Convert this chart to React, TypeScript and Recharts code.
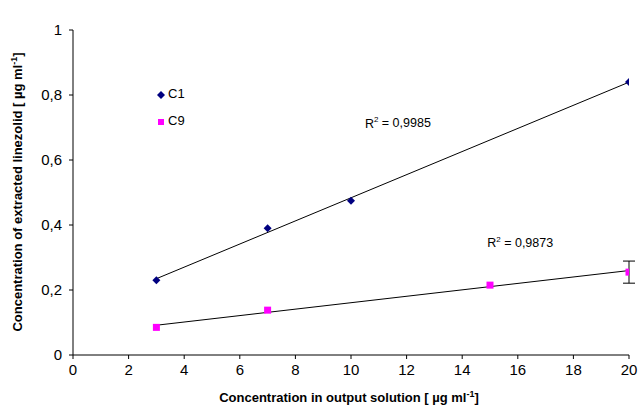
import { ComposedChart, Scatter, Line, XAxis, YAxis, ErrorBar, ReferenceDot } from 'recharts';

const c1X = [3, 7, 10, 20];
const c1Y = [0.23, 0.39, 0.475, 0.84];
const c9X = [3, 7, 15, 20];
const c9Y = [0.085, 0.138, 0.215, 0.255];
const c9Err = [null, null, null, 0.034];
const xTicks = [0, 2, 4, 6, 8, 10, 12, 14, 16, 18, 20];
const yTicks = [0, 0.2, 0.4, 0.6, 0.8, 1];
const seriesNames = ['C1', 'C9'];
const r2Labels = ['R² = 0,9985', 'R² = 0,9873'];

const c1 = c1X.map((x, i) => ({ x, y: c1Y[i] }));
const c9 = c9X.map((x, i) => ({ x, y: c9Y[i], err: c9Err[i] }));

// least squares trend line, drawn between first and last x
function trend(xs: number[], ys: number[]) {
  const n = xs.length;
  const mx = xs.reduce((a, b) => a + b, 0) / n;
  const my = ys.reduce((a, b) => a + b, 0) / n;
  let sxy = 0;
  let sxx = 0;
  xs.forEach((x, i) => {
    sxy += (x - mx) * (ys[i] - my);
    sxx += (x - mx) * (x - mx);
  });
  const k = sxy / sxx;
  const b = my - k * mx;
  return [xs[0], xs[n - 1]].map((x) => ({ x, y: k * x + b }));
}

const c1Trend = trend(c1X, c1Y);
const c9Trend = trend(c9X, c9Y);

const font = 'Arial, "Liberation Sans", sans-serif';

const Diamond = (p: any) => (
  <polygon
    points={`${p.cx},${p.cy - 4} ${p.cx + 4},${p.cy} ${p.cx},${p.cy + 4} ${p.cx - 4},${p.cy}`}
    fill="#000080"
  />
);
const Square = (p: any) => <rect x={p.cx - 3.5} y={p.cy - 3.5} width={7} height={7} fill="#FF00FF" />;

const r2Text = (txt: string) => (p: any) => {
  const [a, b] = txt.split('²');
  return (
    <text x={p.cx} y={p.cy} fontFamily={font} fontSize={12.5} fill="#000" dominantBaseline="middle">
      {a}
      <tspan fontSize={8} dy={-4}>2</tspan>
      <tspan dy={4}>{b}</tspan>
    </text>
  );
};

const Overlay = () => (
  <svg width={641} height={410} style={{ position: 'absolute', left: 0, top: 0, pointerEvents: 'none' }}>
    <polygon points="161,91 165,95 161,99 157,95" fill="#000080" />
    <text x={168} y={95} fontFamily={font} fontSize={13} dominantBaseline="middle">{seriesNames[0]}</text>
    <rect x={158} y={119} width={6} height={6} fill="#FF00FF" />
    <text x={168} y={122} fontFamily={font} fontSize={13} dominantBaseline="middle">{seriesNames[1]}</text>
    <text
      transform="translate(22,192) rotate(-90)"
      textAnchor="middle"
      fontFamily={font}
      fontSize={13}
      fontWeight="bold"
      fill="#000"
    >
      Concentration of extracted linezolid [ µg ml<tspan fontSize={9} dy={-5}>-1</tspan>
      <tspan dy={5}>]</tspan>
    </text>
    <text x={349} y={402} textAnchor="middle" fontFamily={font} fontSize={13} fontWeight="bold" fill="#000">
      Concentration in output solution [ µg ml<tspan fontSize={9} dy={-5}>-1</tspan>
      <tspan dy={5}>]</tspan>
    </text>
  </svg>
);

export default function App() {
  const tick = { fontFamily: font, fontSize: 15, fill: '#000' };
  return (
    <div style={{ position: 'absolute', left: 0, top: 0, width: 641, height: 410, background: '#fff' }}>
      <ComposedChart width={641} height={410} margin={{ top: 30, right: 12, bottom: 0, left: 23 }}>
        <XAxis
          type="number"
          dataKey="x"
          domain={[0, 20]}
          ticks={xTicks}
          tick={tick}
          tickSize={4}
          tickMargin={5}
          stroke="#000"
          height={55}
          allowDataOverflow
        />
        <YAxis
          type="number"
          dataKey="y"
          domain={[0, 1]}
          ticks={yTicks}
          tick={tick}
          tickSize={4}
          tickMargin={7}
          stroke="#000"
          width={50}
          tickFormatter={(v: number) => String(v).replace('.', ',')}
        />
        <Line data={c1Trend} dataKey="y" stroke="#000" strokeWidth={1} dot={false} isAnimationActive={false} />
        <Line data={c9Trend} dataKey="y" stroke="#000" strokeWidth={1} dot={false} isAnimationActive={false} />
        <Scatter data={c1} dataKey="y" shape={Diamond} isAnimationActive={false} />
        <Scatter data={c9} dataKey="y" shape={Square} isAnimationActive={false}>
          <ErrorBar dataKey="err" direction="y" width={6} stroke="#000" strokeWidth={1} />
        </Scatter>
        <ReferenceDot x={10.5} y={0.71} r={0} shape={r2Text(r2Labels[0])} />
        <ReferenceDot x={14.9} y={0.342} r={0} shape={r2Text(r2Labels[1])} />
      </ComposedChart>
      <Overlay />
    </div>
  );
}
